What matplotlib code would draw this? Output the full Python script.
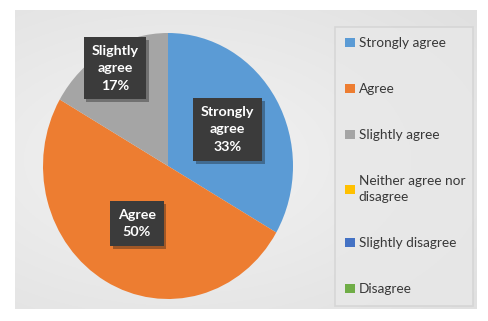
import textwrap
import numpy as np
import matplotlib
matplotlib.use("Agg")
import matplotlib.pyplot as plt
import matplotlib.patheffects as pe

# ---- data ----
categories = ["Strongly agree", "Agree", "Slightly agree",
              "Neither agree nor disagree", "Slightly disagree", "Disagree"]
counts = [2, 3, 1, 0, 0, 0]
colors = ["#5B9BD5", "#ED7D31", "#A5A5A5", "#FFC000", "#4472C4", "#70AD47"]
label_dist = [0.55, 0.50, 0.85, 0.6, 0.6, 0.6]

W, H = 488, 321
fig = plt.figure(figsize=(W / 100, H / 100), dpi=100)
fig.patch.set_facecolor("white")

def box(l, t, r, b):
    return [l / W, 1 - b / H, (r - l) / W, (b - t) / H]

# background panel with soft radial gradient
bg = fig.add_axes(box(15, 10, 477, 309))
yy, xx = np.mgrid[0:1:200j, 0:1:300j]
d = np.sqrt(((xx - 0.35) / 0.9) ** 2 + ((yy - 0.5) / 0.8) ** 2)
shade = 0.955 - 0.08 * np.clip(d, 0, 1)
bg.imshow(np.dstack([shade] * 3), extent=(0, 1, 0, 1), aspect="auto")
bg.set_axis_off()

# pie
ax = fig.add_axes(box(43, 33, 293, 299))
wedges, _ = ax.pie(counts, colors=colors, startangle=90, counterclock=False,
                   wedgeprops=dict(linewidth=0))
ax.set_xlim(-1, 1)
ax.set_ylim(-1, 1)
ax.set_aspect("auto")
ax.set_axis_off()

total = sum(counts)
for w, c, v, ld in zip(wedges, categories, counts, label_dist):
    if v == 0:
        continue
    ang = np.deg2rad((w.theta1 + w.theta2) / 2)
    pct = round(100 * v / total)
    txt = "\n".join(textwrap.wrap(c, 8)) + f"\n{pct}%"
    t = ax.text(ld * np.cos(ang), ld * np.sin(ang), txt, ha="center", va="center",
                color="white", fontsize=10.3, fontweight="bold", family="Lato",
                linespacing=1.55,
                bbox=dict(boxstyle="square,pad=0.55", fc="#3b3b3b", ec="none"))
    t.get_bbox_patch().set_path_effects(
        [pe.SimplePatchShadow(offset=(2, -2), alpha=0.35), pe.Normal()])

# legend
leg_labels = [textwrap.fill(c, 17) for c in categories]
leg = fig.legend(wedges, leg_labels, loc="upper left",
                 bbox_to_anchor=(335 / W, 1 - 307 / H, 138 / W, 280 / H),
                 mode="expand", borderaxespad=0, frameon=True, fancybox=False,
                 handlelength=0.7, handleheight=0.7, handletextpad=0.3,
                 labelspacing=2.5, borderpad=0.75,
                 prop=dict(family="Lato", size=9.8))
fr = leg.get_frame()
fr.set_facecolor("#e8e8e8")
fr.set_edgecolor("#d2d2d2")
fr.set_linewidth(1.2)
for t in leg.get_texts():
    t.set_color("#383838")
    t.set_linespacing(1.4)

fig.savefig("out.png", dpi=100, facecolor="white")
